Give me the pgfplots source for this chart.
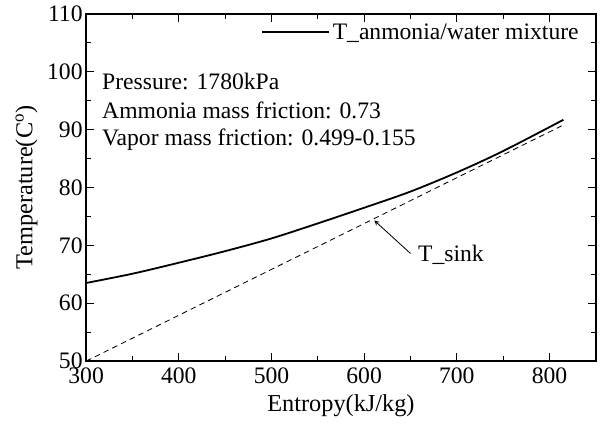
\documentclass[border=0pt]{standalone}
\usepackage{fontspec}
\setmainfont{Liberation Serif}
\usepackage{pgfplots}
\pgfplotsset{compat=1.18}

\begin{document}
\begin{tikzpicture}
\begin{axis}[
  name=ax,
  scale only axis,
  width=367pt, height=250pt,
  xmin=300, xmax=850, ymin=50, ymax=110,
  xtick={300,400,...,800}, ytick={50,60,...,110},
  minor x tick num=1, minor y tick num=1,
  tick align=inside, tick pos=both,
  major tick length=6pt, minor tick length=3.5pt,
  axis line style={line width=1.2pt},
  every tick/.style={line width=0.9pt, black},
  tick label style={font=\fontsize{17}{19}\selectfont},
  xticklabel style={yshift=-1pt},
  yticklabel style={xshift=1pt},
  /pgf/number format/assume math mode=true,
  xlabel={Entropy(kJ/kg)},
  ylabel={Temperature(C\textsuperscript{o})},
  label style={font=\fontsize{17.5}{20}\selectfont},
  xlabel style={at={(axis description cs:0.5,-0.128)}, anchor=center},
  ylabel style={at={(axis description cs:-0.117,0.5)}, anchor=center},
  legend style={draw=none, fill=none, at={(0.975,0.985)}, anchor=north east,
    font=\fontsize{17}{19}\selectfont, inner sep=1pt},
  legend image code/.code={\draw[#1] (0cm,0cm) -- (1.7cm,0cm);},
]
\addplot[black, line width=1.3pt, smooth] coordinates {
  (300,63.5) (350,65.1) (400,67.0) (450,69.0) (500,71.2) (550,73.8)
  (600,76.5) (650,79.3) (700,82.6) (750,86.3) (815,91.7)
};
\addlegendentry{T\_anmonia/water mixture}
\addplot[black, line width=0.6pt, dash pattern=on 4pt off 3pt, forget plot] coordinates {
  (300,50) (815,90.8)
};
\node[anchor=west, font=\fontsize{17}{19}\selectfont] at (rel axis cs:0.022,0.804) {Pressure: 1780kPa};
\node[anchor=west, font=\fontsize{17}{19}\selectfont] at (rel axis cs:0.022,0.721) {Ammonia mass friction: 0.73};
\node[anchor=west, font=\fontsize{17}{19}\selectfont] at (rel axis cs:0.022,0.638) {Vapor mass friction: 0.499-0.155};
\draw[-stealth, line width=0.6pt] (axis cs:650,68.6) -- (axis cs:611,74.3);
\node[anchor=west, font=\fontsize{17}{19}\selectfont] at (axis cs:653,68.4) {T\_sink};
\end{axis}
% page margins as in the reference
\path ([xshift=-62pt,yshift=-47pt]ax.south west) rectangle ([xshift=3pt,yshift=10pt]ax.north east);
\end{tikzpicture}
\end{document}
